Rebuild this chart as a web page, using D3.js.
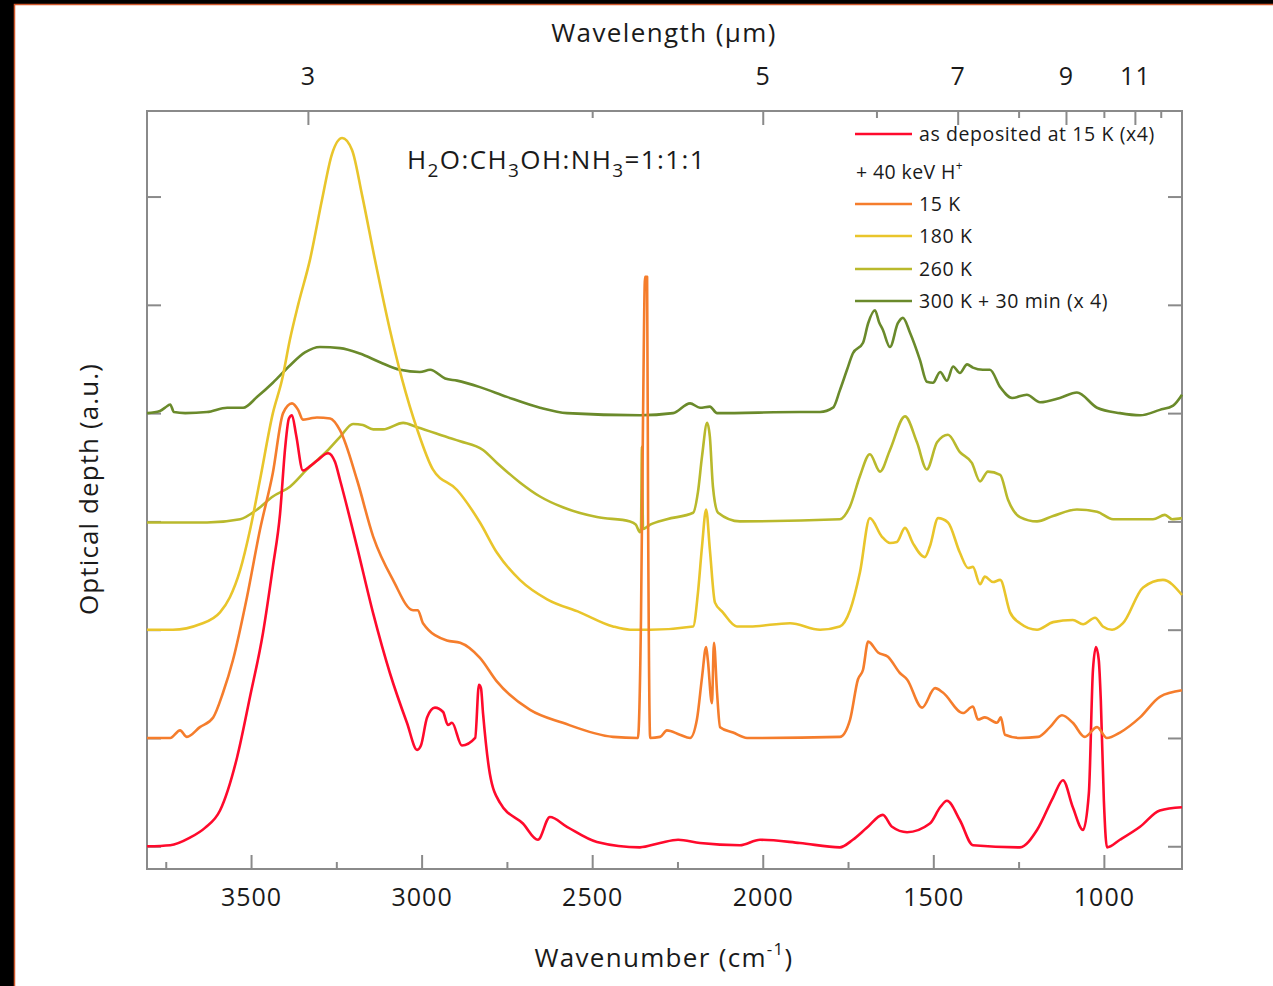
<!DOCTYPE html>
<html>
<head>
<meta charset="utf-8">
<script src="https://cdn.jsdelivr.net/npm/d3@7"></script>
<style>
  body { margin: 0; background: #000; }
  svg { display: block; }
  text { font-family: 'Open Sans', sans-serif; fill: #1a1a1a; }
</style>
</head>
<body>
<svg id="chart"></svg>
<script>
// spectra: [wavenumber (cm-1), optical depth (a.u.)], each curve relative to its own baseline
const asDeposited = [
  [3805, 0], [3737, 0.01], [3679, 0.08], [3635, 0.17], [3591, 0.33], [3541, 0.82], [3503, 1.38],
  [3465, 1.97], [3436, 2.58], [3415, 3.07], [3400, 3.68], [3389, 3.95], [3380, 3.98], [3368, 3.8],
  [3348, 3.47], [3327, 3.51], [3307, 3.56], [3274, 3.63], [3254, 3.55], [3239, 3.38], [3189, 2.76],
  [3142, 2.15], [3093, 1.6], [3043, 1.14], [3013, 0.89], [3002, 0.93], [2984, 1.19], [2961, 1.28],
  [2937, 1.24], [2923, 1.12], [2911, 1.14], [2882, 0.93], [2843, 1.0], [2832, 1.49], [2826, 1.46],
  [2820, 1.23], [2800, 0.67], [2770, 0.4], [2703, 0.21], [2659, 0.06], [2624, 0.27], [2574, 0.18],
  [2486, 0.04], [2360, -0.01], [2301, 0.03], [2248, 0.06], [2184, 0.03], [2067, 0.01], [2008, 0.06],
  [1891, 0.03], [1774, -0.01], [1736, 0.06], [1695, 0.17], [1648, 0.29], [1621, 0.18], [1577, 0.13],
  [1510, 0.21], [1480, 0.36], [1460, 0.42], [1422, 0.24], [1384, 0.01], [1246, -0.01], [1196, 0.15],
  [1149, 0.45], [1120, 0.61], [1091, 0.36], [1061, 0.15], [1044, 0.49], [1032, 1.63], [1023, 1.84],
  [1015, 1.72], [1009, 1.35], [1000, 0.42], [991, -0.01], [953, 0.06], [894, 0.18], [836, 0.33],
  [771, 0.36]
]
const irr15K = [
  [3805, 0], [3737, 0], [3708, 0.07], [3688, 0.01], [3650, 0.1], [3611, 0.19], [3582, 0.42],
  [3553, 0.72], [3512, 1.3], [3474, 1.92], [3436, 2.45], [3406, 3.0], [3380, 3.09], [3362, 3.03],
  [3348, 2.94], [3327, 2.95], [3307, 2.96], [3268, 2.95], [3239, 2.84], [3189, 2.38], [3142, 1.86],
  [3084, 1.46], [3025, 1.18], [3011, 1.18], [2996, 1.06], [2926, 0.9], [2887, 0.88], [2829, 0.74],
  [2779, 0.52], [2682, 0.26], [2586, 0.14], [2439, 0.01], [2366, 0], [2357, 1.09], [2351, 2.94],
  [2345, 4.26], [2339, 4.26], [2336, 2.01], [2330, 0], [2301, 0.01], [2281, 0.07], [2243, 0.03],
  [2213, 0], [2193, 0.17], [2178, 0.56], [2166, 0.84], [2161, 0.72], [2149, 0.32], [2143, 0.88],
  [2134, 0.42], [2125, 0.1], [2087, 0.05], [2046, 0], [1774, 0.01], [1744, 0.17], [1721, 0.54],
  [1706, 0.63], [1691, 0.89], [1662, 0.79], [1633, 0.75], [1598, 0.6], [1577, 0.54], [1533, 0.28],
  [1495, 0.46], [1472, 0.42], [1413, 0.23], [1384, 0.29], [1369, 0.17], [1349, 0.19], [1313, 0.14],
  [1302, 0.19], [1290, 0.03], [1246, 0], [1193, 0.01], [1158, 0.1], [1123, 0.21], [1091, 0.14],
  [1056, 0.01], [1020, 0.1], [991, 0], [953, 0.05], [894, 0.19], [836, 0.38], [771, 0.44]
]
const irr180K = [
  [3805, 0], [3729, 0], [3650, 0.05], [3591, 0.16], [3562, 0.3], [3532, 0.55], [3503, 0.92],
  [3474, 1.38], [3436, 2.0], [3409, 2.31], [3386, 2.68], [3362, 3.0], [3327, 3.42], [3292, 3.97],
  [3263, 4.39], [3233, 4.54], [3204, 4.43], [3175, 4.02], [3137, 3.42], [3093, 2.77], [3057, 2.31],
  [3013, 1.85], [2967, 1.48], [2896, 1.29], [2829, 0.99], [2779, 0.71], [2712, 0.46], [2632, 0.28],
  [2536, 0.16], [2439, 0.03], [2389, 0], [2366, 0], [2330, 0], [2204, 0.03], [2190, 0.34],
  [2178, 0.77], [2166, 1.11], [2155, 0.74], [2140, 0.25], [2117, 0.16], [2076, 0.03], [2038, 0.03],
  [1920, 0.06], [1832, 0], [1774, 0.03], [1744, 0.18], [1715, 0.53], [1686, 1.03], [1651, 0.86],
  [1627, 0.8], [1607, 0.81], [1583, 0.94], [1560, 0.8], [1525, 0.67], [1510, 0.77], [1486, 1.03],
  [1457, 0.99], [1422, 0.71], [1398, 0.57], [1384, 0.58], [1363, 0.42], [1349, 0.49], [1325, 0.44],
  [1304, 0.46], [1275, 0.16], [1246, 0.06], [1196, 0], [1149, 0.07], [1091, 0.09], [1061, 0.05],
  [1026, 0.11], [1003, 0.03], [976, 0], [944, 0.06], [885, 0.39], [827, 0.46], [771, 0.32]
]
const irr260K = [
  [3805, -0.01], [3629, -0.01], [3532, 0.02], [3482, 0.11], [3436, 0.23], [3386, 0.32], [3336, 0.48],
  [3277, 0.65], [3239, 0.78], [3201, 0.9], [3172, 0.89], [3142, 0.85], [3113, 0.85], [3054, 0.91],
  [3013, 0.87], [2926, 0.78], [2887, 0.74], [2820, 0.66], [2779, 0.54], [2712, 0.36], [2653, 0.23],
  [2586, 0.13], [2486, 0.04], [2389, 0], [2372, -0.03], [2360, -0.1], [2357, -0.07], [2354, 0.69],
  [2351, -0.07], [2330, -0.03], [2281, 0.02], [2204, 0.08], [2190, 0.27], [2178, 0.6], [2163, 0.91],
  [2155, 0.78], [2146, 0.32], [2131, 0.08], [2067, 0], [1774, 0.02], [1744, 0.14], [1715, 0.42],
  [1686, 0.62], [1656, 0.46], [1627, 0.66], [1583, 0.97], [1548, 0.73], [1519, 0.48], [1489, 0.73],
  [1457, 0.8], [1422, 0.64], [1387, 0.54], [1363, 0.37], [1340, 0.46], [1304, 0.43], [1281, 0.2],
  [1246, 0.04], [1196, 0], [1149, 0.05], [1079, 0.11], [1020, 0.09], [973, 0.02], [856, 0.02],
  [821, 0.06], [800, 0.02], [771, 0.03]
]
const irr300K = [
  [3805, 0], [3767, 0.02], [3752, 0.05], [3737, 0.08], [3726, 0.01], [3693, 0], [3629, 0.01],
  [3570, 0.05], [3523, 0.05], [3482, 0.15], [3436, 0.28], [3386, 0.44], [3342, 0.56], [3298, 0.61],
  [3239, 0.6], [3181, 0.55], [3122, 0.47], [3063, 0.4], [3005, 0.38], [2975, 0.4], [2931, 0.32],
  [2896, 0.3], [2829, 0.24], [2750, 0.15], [2653, 0.05], [2574, 0], [2360, -0.02], [2263, 0],
  [2213, 0.09], [2184, 0.05], [2155, 0.06], [2134, 0], [1891, 0.01], [1832, 0.01], [1794, 0.05],
  [1774, 0.21], [1753, 0.4], [1736, 0.55], [1706, 0.65], [1691, 0.83], [1671, 0.95], [1659, 0.84],
  [1648, 0.77], [1627, 0.61], [1604, 0.83], [1589, 0.88], [1568, 0.74], [1539, 0.49], [1519, 0.29],
  [1501, 0.28], [1480, 0.38], [1460, 0.3], [1442, 0.43], [1422, 0.37], [1401, 0.45], [1384, 0.42],
  [1355, 0.4], [1334, 0.4], [1304, 0.24], [1269, 0.14], [1226, 0.17], [1187, 0.1], [1129, 0.14],
  [1079, 0.19], [1020, 0.05], [953, 0], [894, -0.02], [836, 0.03], [797, 0.07], [771, 0.17]
]

const spectra = [asDeposited, irr15K, irr180K, irr260K, irr300K]
const offsets = [0, 1, 2, 3, 4]
const labels = ['as deposited at 15 K (x4)', '15 K', '180 K', '260 K', '300 K + 30 min (x 4)']
const colors = ['#ff0a2c', '#f57d2c', '#e9c52b', '#b9b92c', '#6a8a2b']

const bottomMajor = [3500, 3000, 2500, 2000, 1500, 1000]
const bottomMinor = [3750, 3250, 2750, 2250, 1750, 1250]
const topMajor = [3, 5, 7, 9, 11]
const topMinor = [4, 6, 8, 10, 12]
const yTicks = [0, 1, 2, 3, 4, 5, 6]

const W = 1273
const H = 986
const margin = { top: 111, left: 147, right: 91, bottom: 117 }
const width = W - margin.left - margin.right
const height = H - margin.top - margin.bottom

const root = d3.select('#chart').attr('width', W).attr('height', H)

// frame of the slide
root.append('rect').attr('width', W).attr('height', H).attr('fill', '#000')
root.append('rect')
  .attr('x', 14).attr('y', 4).attr('width', W - 14).attr('height', H - 4)
  .attr('fill', '#fff')
root.append('path')
  .attr('d', `M14.5,${H}V4.5H${W}`)
  .attr('fill', 'none').attr('stroke', '#d0582c').attr('stroke-width', 1.5)

const svg = root.append('g')
  .attr('transform', 'translate(' + margin.left + ',' + margin.top + ')')

/// Scales////////////////////////////////
const xScale = d3.scaleLinear().domain([3805, 771]).range([0, width])
const yScale = d3.scaleLinear().domain([-0.21, 6.79]).range([height, 0])

/// axes ////////////////////////////////
function styleAxis(g) {
  g.select('.domain').remove()
  g.selectAll('line').attr('stroke', '#8a8a8a').attr('stroke-width', 2)
  g.selectAll('text').attr('fill', '#1a1a1a')
}

svg.append('g')
  .attr('transform', 'translate(0,' + height + ')')
  .call(d3.axisBottom(xScale).tickValues(bottomMinor).tickSize(-7).tickFormat(''))
  .call(styleAxis)
svg.append('g')
  .attr('transform', 'translate(0,' + height + ')')
  .call(d3.axisBottom(xScale).tickValues(bottomMajor).tickSize(-14).tickPadding(19).tickFormat(d3.format('d')))
  .call(styleAxis)
  .selectAll('text').attr('font-size', 25).attr('letter-spacing', 1)

svg.append('g')
  .call(d3.axisTop(xScale).tickValues(topMinor.map(d => 1e4 / d)).tickSize(-7).tickFormat(''))
  .call(styleAxis)
svg.append('g')
  .call(d3.axisTop(xScale).tickValues(topMajor.map(d => 1e4 / d)).tickSize(-14).tickPadding(26)
    .tickFormat(d => d3.format('d')(Math.round(1e4 / d))))
  .call(styleAxis)
  .selectAll('text').attr('font-size', 25).attr('letter-spacing', 1)

svg.append('g')
  .call(d3.axisLeft(yScale).tickValues(yTicks).tickSize(-14).tickFormat(''))
  .call(styleAxis)
svg.append('g')
  .attr('transform', 'translate(' + width + ',0)')
  .call(d3.axisRight(yScale).tickValues(yTicks).tickSize(-14).tickFormat(''))
  .call(styleAxis)

svg.append('rect')
  .attr('width', width).attr('height', height)
  .attr('fill', 'none').attr('stroke', '#8a8a8a').attr('stroke-width', 2)

/// spectra ////////////////////////////////
const line = d3.line()
  .x(d => xScale(d[0]))
  .y(d => yScale(d[1]))
  .curve(d3.curveMonotoneX)

const plot = svg.append('g')
// draw top curve first so the lower ones lie over it, orange last of all
const order = [4, 3, 2, 0, 1]
order.forEach(i => {
  plot.append('path')
    .datum(spectra[i].map(d => [d[0], d[1] + offsets[i]]))
    .attr('d', line)
    .attr('fill', 'none')
    .attr('stroke', colors[i])
    .attr('stroke-width', 2.6)
    .attr('stroke-linejoin', 'round')
})

/// legend ////////////////////////////////
const legendX = 855 - margin.left
const legendRows = [134, 204, 236, 269, 301].map(v => v - margin.top)
const legend = svg.append('g')
labels.forEach((t, i) => {
  legend.append('line')
    .attr('x1', legendX).attr('x2', legendX + 57)
    .attr('y1', legendRows[i]).attr('y2', legendRows[i])
    .attr('stroke', colors[i]).attr('stroke-width', 2.6)
  legend.append('text')
    .attr('x', legendX + 64).attr('y', legendRows[i])
    .attr('dy', '0.35em')
    .attr('font-size', 19.5)
    .attr('letter-spacing', 0.6)
    .text(t)
})
const irrText = legend.append('text')
  .attr('x', legendX + 1).attr('y', 172 - margin.top + 7)
  .attr('font-size', 19.5).attr('letter-spacing', 0.4)
irrText.append('tspan').text('+ 40 keV H')
irrText.append('tspan').attr('dy', -9).attr('font-size', 12).text('+')

/// composition label ////////////////////////////////
const comp = svg.append('text')
  .attr('x', 407 - margin.left).attr('y', 169 - margin.top)
  .attr('font-size', 26).attr('letter-spacing', 1.4)
const parts = [['H', 0], ['2', 1], ['O:CH', 0], ['3', 1], ['OH:NH', 0], ['3', 1], ['=1:1:1', 0]]
let prevSub = 0
parts.forEach(p => {
  comp.append('tspan')
    .attr('dy', (p[1] - prevSub) * 8)
    .attr('font-size', p[1] ? 19 : 26)
    .text(p[0])
  prevSub = p[1]
})

/// axis titles ////////////////////////////////
const xt = root.append('text')
  .attr('x', 664).attr('y', 967)
  .attr('text-anchor', 'middle').attr('font-size', 26).attr('letter-spacing', 1.3)
xt.append('tspan').text('Wavenumber (cm')
xt.append('tspan').attr('dy', -12).attr('font-size', 17).text('-1')
xt.append('tspan').attr('dy', 12).text(')')

root.append('text')
  .attr('x', 664).attr('y', 33).attr('dy', '0.35em')
  .attr('text-anchor', 'middle').attr('font-size', 26).attr('letter-spacing', 1.4)
  .text('Wavelength (\u03bcm)')

root.append('text')
  .attr('transform', 'translate(89,489) rotate(-90)')
  .attr('dy', '0.35em')
  .attr('text-anchor', 'middle').attr('font-size', 26).attr('letter-spacing', 1.1)
  .text('Optical depth (a.u.)')
</script>
</body>
</html>
